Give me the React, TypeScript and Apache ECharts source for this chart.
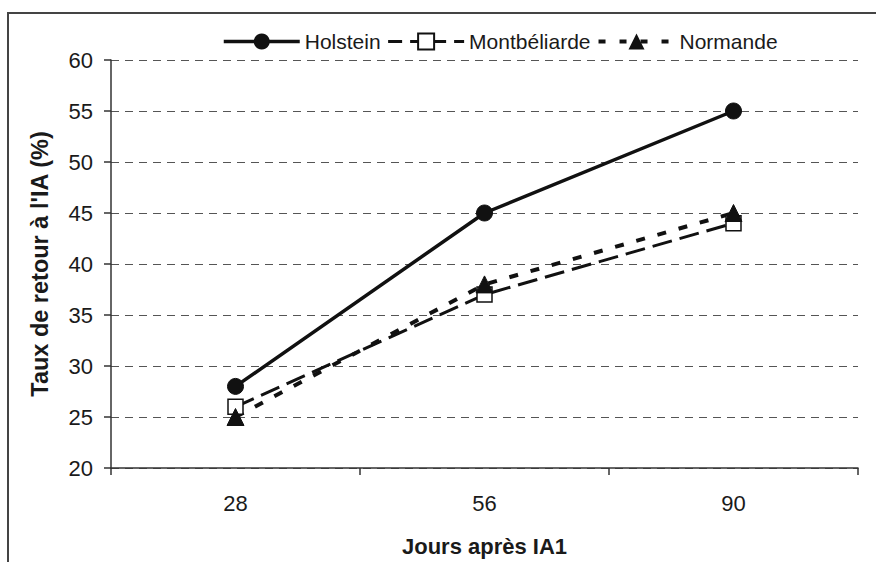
import React, { useEffect, useRef } from "react";
import * as echarts from "echarts";

const categories = ["28", "56", "90"];
const holstein = [28, 45, 55];
const montbeliarde = [26, 37, 44];
const normande = [25, 38, 45];
const seriesNames = ["Holstein", "Montbéliarde", "Normande"];

const FONT = '"Liberation Sans", Arial, sans-serif';
const INK = "#1a1a1a";

export default function App() {
  const ref = useRef<HTMLDivElement>(null);
  useEffect(() => {
    if (!ref.current) return;
    const chart = echarts.init(ref.current, undefined, { renderer: "svg" });
    chart.setOption({
      animation: false,
      backgroundColor: "#fff",
      textStyle: { fontFamily: FONT, color: INK },
      graphic: [
        {
          type: "rect",
          shape: { x: 8, y: 13, width: 900, height: 600 },
          style: { fill: "none", stroke: "#444", lineWidth: 2 },
          z: 10,
          silent: true,
        },
      ],
      legend: {
        left: 212,
        top: 25,
        padding: [6, 10, 8, 10],
        backgroundColor: "#fff",
        itemWidth: 76,
        itemHeight: 20,
        itemGap: 6,
        textStyle: { fontSize: 21, color: INK, fontFamily: FONT },
        data: [
          { name: seriesNames[0], lineStyle: { width: 3.5, type: "solid", color: "#111" } },
          { name: seriesNames[1], lineStyle: { width: 3, type: [14, 8], color: "#111" } },
          { name: seriesNames[2], lineStyle: { width: 4, type: [7, 14], color: "#111" } },
        ],
      },
      grid: { left: 111, right: 18, top: 60, bottom: 92 },
      xAxis: {
        type: "category",
        data: categories,
        boundaryGap: true,
        axisLine: { lineStyle: { color: "#333", width: 1.5 } },
        axisTick: { show: true, length: 7, inside: false, lineStyle: { color: "#333", width: 1.5 } },
        axisLabel: { fontSize: 22, color: INK, margin: 24, fontFamily: FONT },
        name: "Jours après IA1",
        nameLocation: "middle",
        nameGap: 67,
        nameTextStyle: { fontSize: 22, fontWeight: "bold", color: INK, fontFamily: FONT },
      },
      yAxis: {
        type: "value",
        min: 20,
        max: 60,
        interval: 5,
        axisLine: { show: true, lineStyle: { color: "#333", width: 1.5 } },
        axisTick: { show: true, length: 7, lineStyle: { color: "#333", width: 1.5 } },
        axisLabel: { fontSize: 22, color: INK, margin: 18, fontFamily: FONT },
        splitLine: { show: true, lineStyle: { color: "#555", width: 1, type: [8, 6] } },
        name: "Taux de retour à l'IA (%)",
        nameLocation: "middle",
        nameGap: 59,
        nameTextStyle: { fontSize: 23.5, fontWeight: "bold", color: INK, fontFamily: FONT },
      },
      series: [
        {
          name: seriesNames[0],
          type: "line",
          data: holstein,
          symbol: "circle",
          symbolSize: 16,
          lineStyle: { color: "#111", width: 3.5, type: "solid" },
          itemStyle: { color: "#111", borderColor: "#111" },
        },
        {
          name: seriesNames[1],
          type: "line",
          data: montbeliarde,
          symbol: "rect",
          symbolSize: 15,
          lineStyle: { color: "#111", width: 3, type: [20, 8] },
          itemStyle: { color: "#fff", borderColor: "#111", borderWidth: 1.5 },
        },
        {
          name: seriesNames[2],
          type: "line",
          data: normande,
          symbol: "triangle",
          symbolSize: 17,
          lineStyle: { color: "#111", width: 4, type: [9, 13] },
          itemStyle: { color: "#111", borderColor: "#111" },
        },
      ],
    });
    return () => chart.dispose();
  }, []);
  return (
    <div
      ref={ref}
      style={{ position: "fixed", left: 0, top: 0, width: 876, height: 562 }}
    />
  );
}
